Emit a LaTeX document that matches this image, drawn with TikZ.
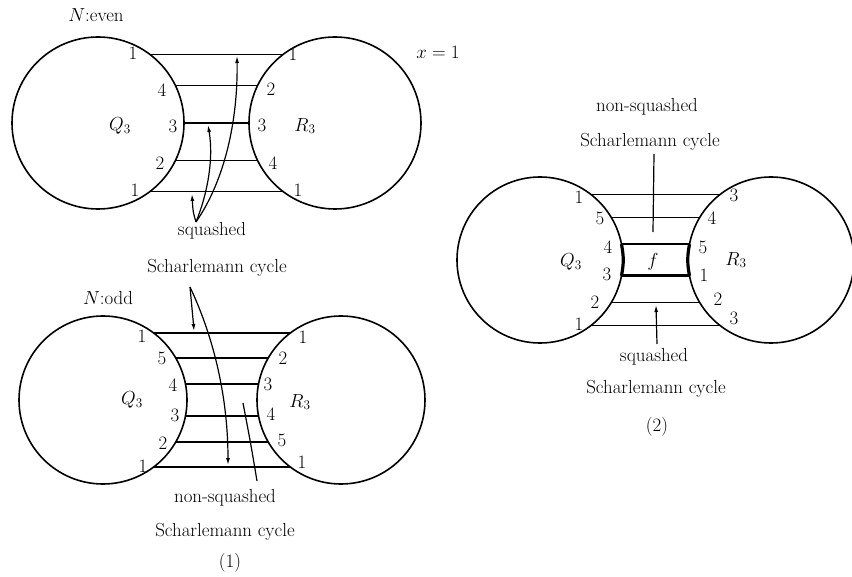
\RequirePackage{fix-cm}
\documentclass[tikz,border=0pt]{standalone}
\usetikzlibrary{arrows.meta}
\tikzset{
  ring/.style={circle,draw,line width=1.6pt,inner sep=0pt,outer sep=0pt,minimum size=#1},
  band/.style={line width=1.4pt},
  fat/.style={line width=3.2pt},
  ptr/.style={line width=1.2pt,-{Latex[length=7pt,width=4pt]}},
  stem/.style={line width=1.2pt},
  lbl/.style={font=\fontsize{18.9}{22}\selectfont,inner sep=0pt}
}
\begin{document}
\begin{tikzpicture}[x=1pt,y=-1pt]
\useasboundingbox (0,0) rectangle (852,577);
% ---------------- top-left: N even ----------------
\node[ring=172pt] (QA) at (98,123) {};
\node[ring=172pt] (RA) at (335,123) {};
\draw[band] (QA.53) -- (RA.127);
\draw[band] (QA.26) -- (RA.154);
\draw[band] (QA.0) -- (RA.180);
\draw[band] (QA.-26) -- (RA.-154);
\draw[band] (QA.-53) -- (RA.-127);
\node[lbl] (ne) at (96,15) {$N$:even};
\node[lbl] (x1) at (438,52) {$x=1$};
\node[lbl] (qa) at (120,126) {$Q_3$};
\node[lbl] (ra) at (305,126) {$R_3$};
\node[lbl] at (133,53) {1};
\node[lbl] at (162,90) {4};
\node[lbl] at (173,126) {3};
\node[lbl] at (160,163) {2};
\node[lbl] at (135,190) {1};
\node[lbl] at (293,54) {1};
\node[lbl] at (271,89) {2};
\node[lbl] at (262,125) {3};
\node[lbl] at (273,163) {4};
\node[lbl] at (298,190) {1};
\node[lbl] (sqa) at (212,231) {squashed};
\coordinate (apA) at (196,222);
\coordinate (tA1) at (192,194);
\coordinate (tA2) at (208,125);
\coordinate (tA3) at (237,56);
\draw[ptr] (apA) .. controls (193,212) .. (tA1);
\draw[ptr] (apA) .. controls (207,195) and (214,160) .. (tA2);
\draw[ptr] (apA) .. controls (225,180) and (238,120) .. (tA3);
% ---------------- bottom-left: N odd ----------------
\node[ring=168pt] (QB) at (103,400) {};
\node[ring=168pt] (RB) at (341,400) {};
\draw[band] (QB.53) -- (RB.127);
\draw[band] (QB.30) -- (RB.150);
\draw[band] (QB.11) -- (RB.169);
\draw[band] (QB.-11) -- (RB.-169);
\draw[band] (QB.-30) -- (RB.-150);
\draw[band] (QB.-53) -- (RB.-127);
\node[lbl] (no) at (108,298) {$N$:odd};
\node[lbl] (qb) at (132,400) {$Q_3$};
\node[lbl] (rb) at (300,402) {$R_3$};
\node[lbl] at (142,336) {1};
\node[lbl] at (162,358) {5};
\node[lbl] at (173,385) {4};
\node[lbl] at (175,415) {3};
\node[lbl] at (163,443) {2};
\node[lbl] at (143,466) {1};
\node[lbl] at (303,337) {1};
\node[lbl] at (283,358) {2};
\node[lbl] at (268,384) {3};
\node[lbl] at (271,414) {4};
\node[lbl] at (282,440) {5};
\node[lbl] at (302,462) {1};
\node[lbl] (scb) at (217,268) {Scharlemann cycle};
\node[lbl] (nsb) at (225,498) {non-squashed};
\node[lbl] (scb2) at (225,532) {Scharlemann cycle};
\node[lbl] (one) at (230,563) {(1)};
\coordinate (apB) at (190,287);
\coordinate (tB1) at (194,331);
\coordinate (tB2) at (228,465);
\coordinate (nB0) at (257,481);
\coordinate (nB1) at (243,403);
\draw[ptr] (apB) .. controls (192,305) .. (tB1);
\draw[ptr] (apB) .. controls (215,340) and (228,400) .. (tB2);
\draw[stem] (nB0) .. controls (251,445) .. (nB1);
% ---------------- right: (2) ----------------
\node[ring=166pt] (QC) at (540,260) {};
\node[ring=166pt] (RC) at (771,260) {};
\draw[band] (QC.52) -- (RC.128);
\draw[band] (QC.31) -- (RC.149);
\draw[band] (QC.11) -- (RC.169);
\draw[fat] (QC.-11) -- (RC.-169);
\draw[band] (QC.-31) -- (RC.-149);
\draw[band] (QC.-52) -- (RC.-128);
\draw[fat] (QC.11) to[bend left=11] (QC.-11);
\draw[fat] (RC.169) to[bend right=11] (RC.-169);
\node[lbl] (qc) at (571,262) {$Q_3$};
\node[lbl] (rc) at (736,260) {$R_3$};
\node[lbl] (fc) at (653,262) {$f$};
\node[lbl] at (579,197) {1};
\node[lbl] at (600,218) {5};
\node[lbl] at (608,247) {4};
\node[lbl] at (607,274) {3};
\node[lbl] at (595,302) {2};
\node[lbl] at (579,324) {1};
\node[lbl] at (734,195) {3};
\node[lbl] at (712,218) {4};
\node[lbl] at (703,247) {5};
\node[lbl] at (704,275) {1};
\node[lbl] at (718,299) {2};
\node[lbl] at (734,318) {3};
\node[lbl] (nsc) at (647,107) {non-squashed};
\node[lbl] (scc) at (650,142) {Scharlemann cycle};
\node[lbl] (sqc) at (654,357) {squashed};
\node[lbl] (scc2) at (656,389) {Scharlemann cycle};
\node[lbl] (two) at (657,427) {(2)};
\coordinate (vC0) at (654,154);
\coordinate (vC1) at (653,232);
\coordinate (aC0) at (657,344);
\coordinate (aC1) at (656,305);
\draw[stem] (vC0) -- (vC1);
\draw[ptr] (aC0) -- (aC1);
\end{tikzpicture}
\end{document}
